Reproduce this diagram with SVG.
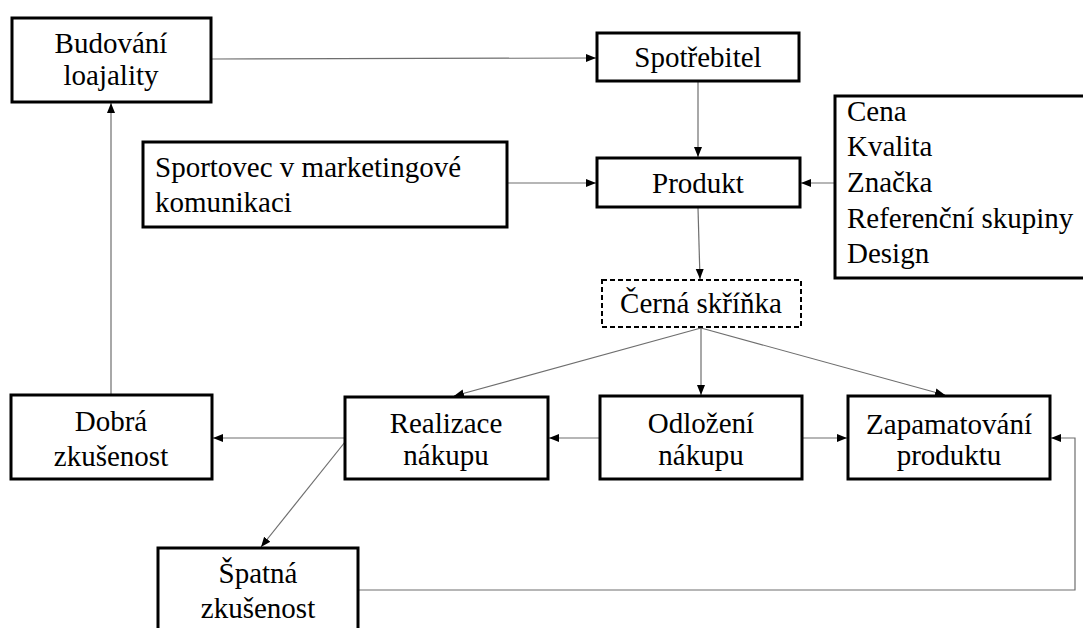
<svg xmlns="http://www.w3.org/2000/svg" width="1083" height="628" viewBox="0 0 1083 628">
<style>
.box{fill:#fff;stroke:#000;stroke-width:3}
.dash{fill:#fff;stroke:#000;stroke-width:2;stroke-dasharray:5 3}
.t{font-family:"Liberation Serif","Times New Roman",serif;font-size:29px;fill:#000}
.c{text-anchor:middle}
.ln{fill:none;stroke:#6e6e6e;stroke-width:1.2}
</style>
<defs>
<marker id="ah" markerUnits="userSpaceOnUse" markerWidth="10" markerHeight="10" viewBox="0 0 10 10" refX="10" refY="5" orient="auto">
<path d="M0,1 L10,5 L0,9 Z" fill="#000"/>
</marker>
</defs>
<g id="connectors">
<line class="ln" x1="212" y1="59" x2="596" y2="58" marker-end="url(#ah)"/>
<line class="ln" x1="698" y1="82" x2="698" y2="157" marker-end="url(#ah)"/>
<line class="ln" x1="508" y1="183" x2="596" y2="183" marker-end="url(#ah)"/>
<line class="ln" x1="835" y1="183" x2="801" y2="183" marker-end="url(#ah)"/>
<line class="ln" x1="698" y1="208" x2="700" y2="279" marker-end="url(#ah)"/>
<line class="ln" x1="701" y1="328" x2="454" y2="396" marker-end="url(#ah)"/>
<line class="ln" x1="701" y1="328" x2="701" y2="395" marker-end="url(#ah)"/>
<line class="ln" x1="701" y1="328" x2="945" y2="395" marker-end="url(#ah)"/>
<line class="ln" x1="599" y1="438" x2="549" y2="438" marker-end="url(#ah)"/>
<line class="ln" x1="803" y1="438" x2="847" y2="438" marker-end="url(#ah)"/>
<line class="ln" x1="344" y1="438" x2="213" y2="438" marker-end="url(#ah)"/>
<line class="ln" x1="345" y1="442" x2="261" y2="547" marker-end="url(#ah)"/>
<line class="ln" x1="111" y1="394" x2="111" y2="103" marker-end="url(#ah)"/>
<polyline class="ln" points="359,590 1075,590 1075,438 1051,438" marker-end="url(#ah)"/>
</g>
<g id="budovani">
<rect class="box" x="12" y="18" width="199" height="84"/>
<text class="t c" x="111" y="53">Budování</text>
<text class="t c" x="111" y="85">loajality</text>
</g>
<g id="spotrebitel">
<rect class="box" x="597" y="33" width="202" height="48"/>
<text class="t c" x="698" y="67">Spotřebitel</text>
</g>
<g id="sportovec">
<rect class="box" x="143" y="142" width="364" height="85"/>
<text class="t" x="155" y="177">Sportovec v marketingové</text>
<text class="t" x="155" y="212">komunikaci</text>
</g>
<g id="produkt">
<rect class="box" x="597" y="158" width="203" height="49"/>
<text class="t c" x="698" y="193">Produkt</text>
</g>
<g id="faktory">
<rect class="box" x="835" y="96" width="260" height="182"/>
<text class="t" x="847" y="121">Cena</text>
<text class="t" x="847" y="156">Kvalita</text>
<text class="t" x="847" y="192">Značka</text>
<text class="t" x="847" y="228">Referenční skupiny</text>
<text class="t" x="847" y="263">Design</text>
</g>
<g id="cerna">
<rect class="dash" x="602" y="280" width="199" height="47"/>
<text class="t c" x="701" y="313">Černá skříňka</text>
</g>
<g id="dobra">
<rect class="box" x="11" y="395" width="201" height="84"/>
<text class="t c" x="111" y="431">Dobrá</text>
<text class="t c" x="111" y="466">zkušenost</text>
</g>
<g id="realizace">
<rect class="box" x="345" y="397" width="203" height="82"/>
<text class="t c" x="446" y="433">Realizace</text>
<text class="t c" x="446" y="465">nákupu</text>
</g>
<g id="odlozeni">
<rect class="box" x="600" y="396" width="202" height="83"/>
<text class="t c" x="701" y="433">Odložení</text>
<text class="t c" x="701" y="465">nákupu</text>
</g>
<g id="zapamatovani">
<rect class="box" x="848" y="396" width="202" height="83"/>
<text class="t c" x="949" y="434">Zapamatování</text>
<text class="t c" x="949" y="465">produktu</text>
</g>
<g id="spatna">
<rect class="box" x="158" y="548" width="200" height="90"/>
<text class="t c" x="258" y="583">Špatná</text>
<text class="t c" x="258" y="618">zkušenost</text>
</g>
</svg>
